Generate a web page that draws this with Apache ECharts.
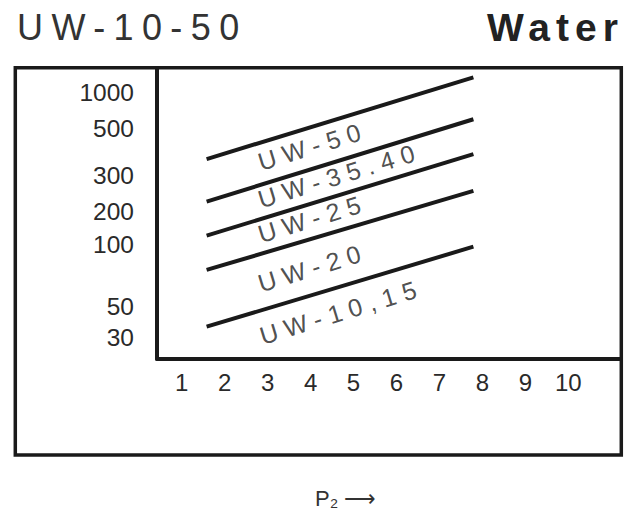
<!DOCTYPE html>
<html><head><meta charset="utf-8">
<script src="https://cdn.jsdelivr.net/npm/echarts@6/dist/echarts.min.js"></script>
<style>html,body{margin:0;padding:0;background:#fff}#c{width:635px;height:514px}</style>
</head><body><div id="c"></div>
<script>
// ---- data ----
const xTicks = [1, 2, 3, 4, 5, 6, 7, 8, 9, 10];
const yTickLabels = ['1000', '500', '300', '200', '100', '50', '30'];
const yTickPos = [91.6, 79.3, 63.2, 50.6, 39.2, 18.2, 7.5];   // vertical position on the chart scale
const lineX = [1.58, 7.79];
const seriesNames = ['UW-50', 'UW-35.40', 'UW-25', 'UW-20', 'UW-10,15'];
const uw50 = [68.7, 96.8];
const uw3540 = [54.1, 82.4];
const uw25 = [42.4, 70.4];
const uw20 = [30.6, 57.8];
const uw1015 = [11.1, 38.6];
const labelX = [2.79, 2.79, 2.79, 2.79, 2.83];
const labelY = [67.6, 54.7, 42.7, 25.8, 7.8];
const titleText = 'UW-10-50';
const mediumText = 'Water';
const axisNameText = 'P\u2082 \u27F6';

const FONT = "'Liberation Sans', Arial, sans-serif";
const INK = '#1a1a1a';
const TXT = '#222';

const lineValues = [uw50, uw3540, uw25, uw20, uw1015];
const series = [];
lineValues.forEach(function (vals, i) {
  series.push({
    type: 'line', name: seriesNames[i], silent: true, symbol: 'none',
    lineStyle: { color: INK, width: 4, cap: 'butt' },
    data: lineX.map(function (x, j) { return [x, vals[j]]; })
  });
});
series.push({
  type: 'scatter', silent: true, symbol: 'circle', symbolSize: 1,
  itemStyle: { color: 'rgba(0,0,0,0)' },
  data: seriesNames.map(function (n, i) { return { name: n, value: [labelX[i], labelY[i]] }; }),
  label: {
    show: true, position: 'inside', formatter: '{b}', rotate: 17, align: 'left', verticalAlign: 'middle',
    fontFamily: FONT, fontSize: 25, color: TXT
  },
  labelLayout: { hideOverlap: false }
});

const chart = echarts.init(document.getElementById('c'), null, { renderer: 'svg' });
chart.setOption({
  animation: false,
  backgroundColor: '#fff',
  title: [
    { text: titleText, left: 17, top: 9, padding: 0,
      textStyle: { fontFamily: FONT, fontSize: 36, fontWeight: 'normal', color: '#333' } },
    { text: mediumText, left: 487, top: 8, padding: 0,
      textStyle: { fontFamily: FONT, fontSize: 39, fontWeight: 'bold', color: '#222' } },
    { text: axisNameText, left: 315, top: 487, padding: 0,
      textStyle: { fontFamily: FONT, fontSize: 22, fontWeight: 'normal', color: '#333' } }
  ],
  grid: { left: 157, top: 68, right: 14, bottom: 155, containLabel: false },
  xAxis: {
    type: 'value', min: 0.425, max: 11.226,
    axisLine: { show: true, onZero: false, lineStyle: { color: INK, width: 4 } },
    axisTick: { show: false }, splitLine: { show: false },
    axisLabel: { customValues: xTicks, margin: 11, fontFamily: FONT, fontSize: 24, color: '#2a2a2a' }
  },
  yAxis: {
    type: 'value', min: 0, max: 100,
    axisLine: { show: true, onZero: false, lineStyle: { color: INK, width: 4 } },
    axisTick: { show: false }, splitLine: { show: false },
    axisLabel: {
      customValues: yTickPos, margin: 23, fontFamily: FONT, fontSize: 24.5, color: '#2a2a2a',
      formatter: function (v) { const k = yTickPos.indexOf(v); return k >= 0 ? yTickLabels[k] : ''; }
    }
  },
  graphic: [{
    type: 'rect', silent: true, z: 100,
    shape: { x: 15.3, y: 67.7, width: 606, height: 387.3 },
    style: { fill: 'none', stroke: INK, lineWidth: 3.5 }
  }],
  series: series
});

const spacing = { 'UW-10-50': 8.4, 'Water': 6 };
seriesNames.forEach(function (n) { spacing[n] = 7.2; });
function applySpacing() {
  document.querySelectorAll('#c svg text').forEach(function (t) {
    const s = spacing[t.textContent];
    if (s !== undefined) t.setAttribute('letter-spacing', s + 'px');
  });
}
applySpacing();
chart.on('finished', applySpacing);
</script>
</body></html>
